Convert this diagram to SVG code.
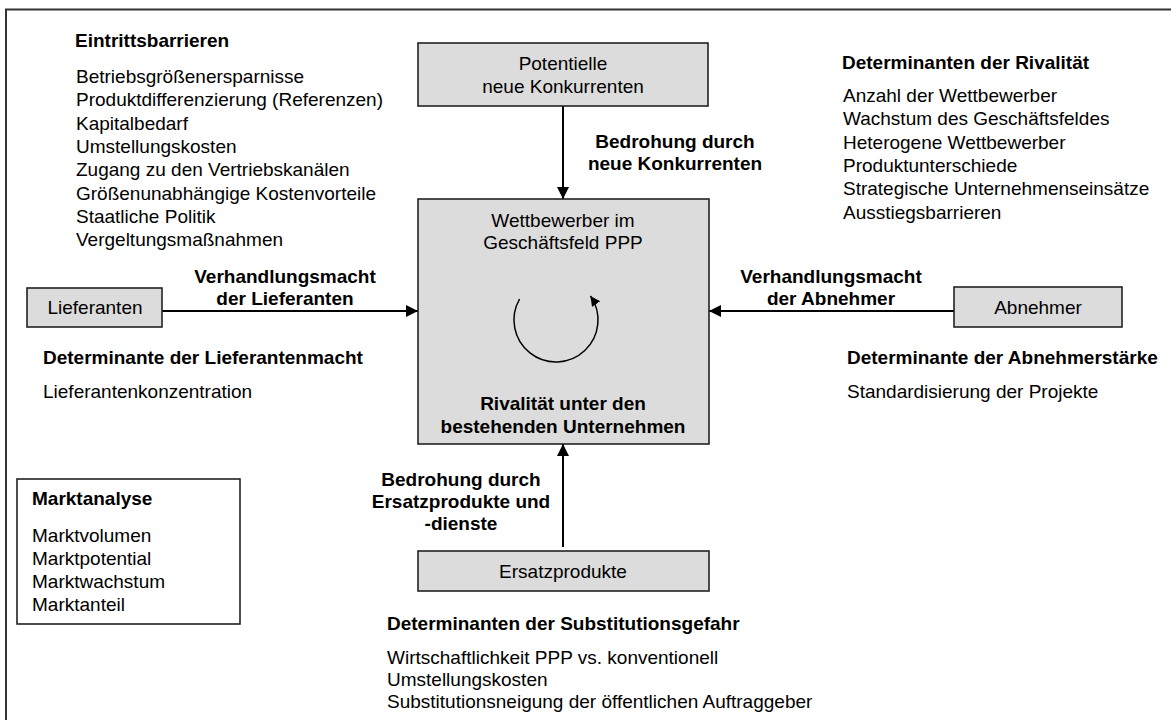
<svg xmlns="http://www.w3.org/2000/svg" width="1171" height="720" viewBox="0 0 1171 720">
<style>
text{font-family:"Liberation Sans",Arial,sans-serif;font-size:19px;fill:#000}
.b{font-weight:bold}
.c{text-anchor:middle}
.box{fill:#dcdcdc;stroke:#222;stroke-width:1.6}
.wbox{fill:#fff;stroke:#222;stroke-width:1.6}
.conn{stroke:#000;stroke-width:2;fill:none}
.frame{stroke:#333;stroke-width:2;fill:none}
</style>
<defs>
<marker id="ah" markerUnits="userSpaceOnUse" markerWidth="12" markerHeight="12" refX="12" refY="6" orient="auto">
<path d="M0,0 L12,6 L0,12 z" fill="#000"/>
</marker>
<marker id="ahs" markerUnits="userSpaceOnUse" markerWidth="12" markerHeight="12" refX="10" refY="5" orient="auto">
<path d="M0,0 L10,5 L0,10 z" fill="#000"/>
</marker>
</defs>
<rect width="1171" height="720" fill="#fff"/>
<path class="frame" d="M6,720 L6,9.5 L1171,9.5"/>

<g id="connectors">
<line class="conn" x1="563" y1="106" x2="563" y2="199" marker-end="url(#ah)"/>
<line class="conn" x1="162" y1="311" x2="418" y2="311" marker-end="url(#ah)"/>
<line class="conn" x1="954" y1="311" x2="709" y2="311" marker-end="url(#ah)"/>
<line class="conn" x1="563" y1="547" x2="563" y2="444" marker-end="url(#ah)"/>
</g>

<g id="eintrittsbarrieren">
<text class="b" x="75" y="47">Eintrittsbarrieren</text>
<text x="76" y="83">Betriebsgrößenersparnisse</text>
<text x="76" y="106.3">Produktdifferenzierung (Referenzen)</text>
<text x="76" y="129.6">Kapitalbedarf</text>
<text x="76" y="152.9">Umstellungskosten</text>
<text x="76" y="176.2">Zugang zu den Vertriebskanälen</text>
<text x="76" y="199.5">Größenunabhängige Kostenvorteile</text>
<text x="76" y="222.8">Staatliche Politik</text>
<text x="76" y="246.1">Vergeltungsmaßnahmen</text>
</g>

<g id="potentielle">
<rect class="box" x="418" y="43" width="290" height="63"/>
<text class="c" x="563" y="70">Potentielle</text>
<text class="c" x="563" y="93">neue Konkurrenten</text>
</g>

<g id="label-neue">
<text class="b c" x="675" y="148">Bedrohung durch</text>
<text class="b c" x="675" y="170">neue Konkurrenten</text>
</g>

<g id="rivalitaet-det">
<text class="b" x="842" y="69">Determinanten der Rivalität</text>
<text x="843" y="102">Anzahl der Wettbewerber</text>
<text x="843" y="125.3">Wachstum des Geschäftsfeldes</text>
<text x="843" y="148.6">Heterogene Wettbewerber</text>
<text x="843" y="171.9">Produktunterschiede</text>
<text x="843" y="195.2">Strategische Unternehmenseinsätze</text>
<text x="843" y="218.5">Ausstiegsbarrieren</text>
</g>

<g id="wettbewerber">
<rect class="box" x="418" y="199" width="291" height="245"/>
<text class="c" x="563" y="227">Wettbewerber im</text>
<text class="c" x="563" y="249">Geschäftsfeld PPP</text>
<path class="conn" style="stroke-width:1.5" d="M519.6,299 A42,42 0 1 0 590.4,295.9" marker-end="url(#ahs)"/>
<text class="b c" x="563" y="410">Rivalität unter den</text>
<text class="b c" x="563" y="433">bestehenden Unternehmen</text>
</g>

<g id="lieferanten">
<rect class="box" x="27" y="288" width="135" height="39"/>
<text class="c" x="95" y="314">Lieferanten</text>
</g>

<g id="label-lieferanten">
<text class="b c" x="285" y="283">Verhandlungsmacht</text>
<text class="b c" x="285" y="305">der Lieferanten</text>
</g>

<g id="lieferanten-det">
<text class="b" x="43" y="364">Determinante der Lieferantenmacht</text>
<text x="43" y="398">Lieferantenkonzentration</text>
</g>

<g id="abnehmer">
<rect class="box" x="954" y="287" width="168" height="40"/>
<text class="c" x="1038" y="314">Abnehmer</text>
</g>

<g id="label-abnehmer">
<text class="b c" x="831" y="283">Verhandlungsmacht</text>
<text class="b c" x="831" y="305">der Abnehmer</text>
</g>

<g id="abnehmer-det">
<text class="b" x="847" y="364">Determinante der Abnehmerstärke</text>
<text x="847" y="398">Standardisierung der Projekte</text>
</g>

<g id="marktanalyse">
<rect class="wbox" x="17" y="479" width="223" height="145"/>
<text class="b" x="32" y="505">Marktanalyse</text>
<text x="32" y="542">Marktvolumen</text>
<text x="32" y="565">Marktpotential</text>
<text x="32" y="588">Marktwachstum</text>
<text x="32" y="611">Marktanteil</text>
</g>

<g id="label-ersatz">
<text class="b c" x="461" y="486">Bedrohung durch</text>
<text class="b c" x="461" y="508">Ersatzprodukte und</text>
<text class="b c" x="461" y="530">-dienste</text>
</g>

<g id="ersatzprodukte">
<rect class="box" x="418" y="551" width="291" height="40"/>
<text class="c" x="563" y="578">Ersatzprodukte</text>
</g>

<g id="substitution-det">
<text class="b" x="387" y="630">Determinanten der Substitutionsgefahr</text>
<text x="387" y="664">Wirtschaftlichkeit PPP vs. konventionell</text>
<text x="387" y="686">Umstellungskosten</text>
<text x="387" y="708">Substitutionsneigung der öffentlichen Auftraggeber</text>
</g>
</svg>
